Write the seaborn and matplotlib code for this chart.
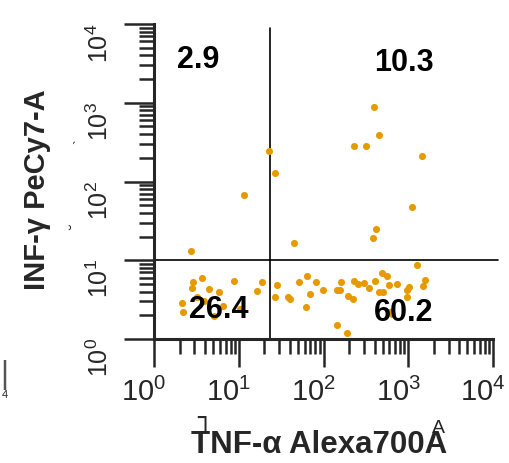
#Dot plot de citometria, TNF-a x INF-g, com gate em quadrantes

import matplotlib
matplotlib.use("Agg")
import matplotlib.pyplot as plt
import matplotlib.ticker as mticker
import matplotlib.transforms as mtransforms
import seaborn
import pandas

# eventos
tnf = [2.7, 11.5,
       23, 27, 390, 450, 230, 320, 1450, 1100, 415, 385, 45,
       1270,
       2.9, 2.8, 3.7, 4.5, 5.9, 8.8, 2.15, 2.2, 3.2, 5.1, 10.3, 18.8, 16.4, 3.9, 6.5,
       28, 27, 38, 40, 51, 64, 82, 69, 99, 62, 144, 189, 161, 144, 157, 195, 223,
       229, 255, 300, 344, 405, 452, 504, 490, 561, 593, 736, 1020, 967, 967,
       1580, 1490, 609, 643]
ifn = [13, 67,
       244, 128, 880, 390, 280, 280, 210, 47, 25, 19, 16.6,
       8.7,
       5.3, 4.4, 6.0, 4.3, 3.95, 5.45, 2.9, 2.2, 3.4, 1.95, 2.4, 5.3, 4.1, 3.0, 2.6,
       4.85, 3.4, 3.4, 3.2, 5.3, 6.3, 5.3, 3.7, 4.2, 2.55, 1.5, 1.19, 5.3, 4.2, 4.2, 3.5, 3.2,
       5.45, 5.0, 5.15, 4.45, 5.45, 3.95, 3.95, 6.9, 6.3, 4.85, 5.0, 4.6, 4.2, 3.4,
       5.6, 4.7, 2.2, 2.1]

# gate
gate_x = 23.4
gate_y = 10

# porcentagens dos quadrantes: UL, UR, LL, LR
quad_labels = ["2.9", "10.3", "26.4", "60.2"]

seaborn.set_style("ticks")
plt.rcParams['font.family'] = ['Liberation Sans', 'DejaVu Sans']
plt.rcParams['mathtext.default'] = 'regular'

fig = plt.figure(figsize=(5.09, 4.64), dpi=100)
ax = fig.add_axes([154 / 509, 1 - 340 / 464, 339 / 509, 315 / 464])

df = pandas.DataFrame({"tnf": tnf, "ifn": ifn})
seaborn.scatterplot(data=df, x="tnf", y="ifn", ax=ax, color="#E69A00", s=26,
                    linewidth=0, zorder=3, clip_on=False)

ax.set_xscale("log")
ax.set_yscale("log")
ax.set_xlim(1, 1e4)
ax.set_ylim(1, 1e4)
ax.set_xlabel("")
ax.set_ylabel("")

# linhas do gate
ax.axvline(gate_x, ymin=0, ymax=0.987, color="black", lw=1.2, zorder=2)
ax.axhline(gate_y, xmin=0, xmax=1.015, color="black", lw=1.2, zorder=2, clip_on=False)

# eixos
ax.spines[['top', 'right']].set_visible(False)
ax.spines[['left', 'bottom']].set_linewidth(2.2)

for eixo in [ax.xaxis, ax.yaxis]:
    eixo.set_major_locator(mticker.LogLocator(base=10, numticks=10))
    eixo.set_minor_locator(mticker.LogLocator(base=10, subs=range(2, 10), numticks=10))
    eixo.set_minor_formatter(mticker.NullFormatter())

ax.tick_params(axis='x', which='major', length=20, width=1.8, direction='out', labelsize=21, pad=7)
ax.tick_params(axis='y', which='major', length=21.5, width=1.8, direction='out', labelsize=18, pad=8,
               labelrotation=90)
ax.tick_params(which='minor', length=11, width=1.8, direction='out')

# deslocamento dos rotulos dos ticks
dx = mtransforms.ScaledTranslation(-10 / 100, 0, fig.dpi_scale_trans)
dy = mtransforms.ScaledTranslation(0, -9 / 100, fig.dpi_scale_trans)
for lab in ax.get_xticklabels():
    lab.set_transform(lab.get_transform() + dx)
for lab in ax.get_yticklabels():
    lab.set_transform(lab.get_transform() + dy)

# porcentagens
pos = [(0.130, 0.863), (0.737, 0.854), (0.192, 0.070), (0.737, 0.060)]
for (px, py), txt in zip(pos, quad_labels):
    ax.text(px, py, txt, transform=ax.transAxes, ha='center', va='baseline',
            fontsize=22, fontweight='bold', color='black', zorder=5)

# titulos dos eixos
fig.text(319 / 509, 1 - 453 / 464, "TNF-α Alexa700A", ha='center', va='baseline',
         fontsize=22.5, fontweight='bold')
fig.text(45 / 509, 1 - 190 / 464, "INF-γ PeCy7-A", rotation=90, rotation_mode='anchor',
         ha='center', va='baseline', fontsize=21, fontweight='bold')

# restos de texto que aparecem na figura original
fig.text(438 / 509, 1 - 433 / 464, "A", ha='center', va='baseline', fontsize=14)
fig.text(205 / 509, 1 - 425 / 464, "┐", ha='center', va='baseline', fontsize=18,
         family=['DejaVu Sans'])
fig.text(0 / 509, 1 - 383 / 464, "|", ha='left', va='baseline', fontsize=22, color='#555555')
fig.text(5 / 509, 1 - 398 / 464, "4", ha='center', va='baseline', fontsize=8)
fig.text(80 / 509, 1 - 142 / 464, "`", ha='center', va='center', fontsize=10, rotation=90)
fig.text(78 / 509, 1 - 227 / 464, "˘", ha='center', va='center', fontsize=12, rotation=90)

fig.savefig("out.png", dpi=100)
